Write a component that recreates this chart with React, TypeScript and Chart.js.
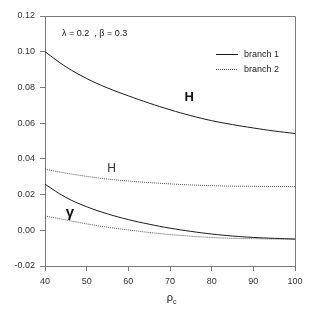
import React, { useEffect, useRef } from "react";
import { Chart, registerables } from "chart.js";

Chart.register(...registerables);

const rho = [40, 45, 50, 55, 60, 65, 70, 75, 80, 85, 90, 95, 100];
const H1 = [0.1, 0.0916, 0.085, 0.0797, 0.0753, 0.0712, 0.0675, 0.0642, 0.0614, 0.0592, 0.0573, 0.0556, 0.0542];
const H2 = [0.0342, 0.032, 0.0302, 0.0287, 0.0276, 0.0267, 0.026, 0.0254, 0.025, 0.0247, 0.0246, 0.0245, 0.0245];
const G1 = [0.0258, 0.0184, 0.0132, 0.0092, 0.006, 0.0034, 0.0012, -0.0006, -0.0021, -0.0032, -0.004, -0.0045, -0.0049];
const G2 = [0.008, 0.0058, 0.0036, 0.0017, 0.0002, -0.0012, -0.0024, -0.0033, -0.004, -0.0045, -0.0047, -0.0049, -0.005];

const legendLabels = ["branch 1", "branch 2"];
const paramText = "λ = 0.2  , β = 0.3";
const xTitle = "ρ";
const xTitleSub = "c";

const FONT = "'Liberation Sans', Arial, sans-serif";
const AXIS = "#7a7a7a";
const SOLID = "#1a1a1a";
const DOT = "#555555";

const pts = (ys: number[]) => rho.map((x, i) => ({ x, y: ys[i] }));

const annotations = [
  { text: "H", x: 74.6, y: 0.0745, font: `bold 13px ${FONT}`, color: "#111" },
  { text: "H", x: 56.0, y: 0.0345, font: `12px ${FONT}`, color: "#333" },
  { text: "γ", x: 46.0, y: 0.0095, font: `bold 15px ${FONT}`, color: "#111" },
];

const extras = {
  id: "extras",
  afterDraw(chart: any) {
    const { ctx, chartArea, scales } = chart;
    const { left, right, top, bottom } = chartArea;
    ctx.save();
    ctx.strokeStyle = AXIS;
    ctx.lineWidth = 1;
    ctx.beginPath();
    ctx.moveTo(left, top + 0.5);
    ctx.lineTo(right + 0.5, top + 0.5);
    ctx.lineTo(right + 0.5, bottom);
    ctx.stroke();

    ctx.fillStyle = "#222";
    ctx.font = `9px ${FONT}`;
    ctx.textBaseline = "middle";
    ctx.textAlign = "left";
    ctx.fillText(paramText, 62, 34);

    const ly = [54.5, 69.5];
    legendLabels.forEach((lab, i) => {
      ctx.beginPath();
      ctx.strokeStyle = i === 0 ? SOLID : DOT;
      ctx.setLineDash(i === 0 ? [] : [1, 1]);
      ctx.moveTo(216, ly[i]);
      ctx.lineTo(238, ly[i]);
      ctx.stroke();
      ctx.setLineDash([]);
      ctx.fillStyle = "#222";
      ctx.font = `9px ${FONT}`;
      ctx.textAlign = "left";
      ctx.textBaseline = "middle";
      ctx.fillText(lab, 244, ly[i]);
    });

    annotations.forEach((a) => {
      ctx.font = a.font;
      ctx.fillStyle = a.color;
      ctx.textAlign = "center";
      ctx.textBaseline = "middle";
      ctx.fillText(a.text, scales.x.getPixelForValue(a.x), scales.y.getPixelForValue(a.y));
    });

    const cx = (left + right) / 2;
    ctx.fillStyle = "#222";
    ctx.font = `11px ${FONT}`;
    ctx.textAlign = "center";
    ctx.textBaseline = "middle";
    ctx.fillText(xTitle, cx, 298);
    ctx.font = `7px ${FONT}`;
    ctx.textAlign = "left";
    ctx.fillText(xTitleSub, cx + 3, 302);
    ctx.restore();
  },
};

export default function App() {
  const ref = useRef<HTMLCanvasElement | null>(null);
  useEffect(() => {
    if (!ref.current) return;
    const line = (data: number[], solid: boolean) => ({
      data: pts(data),
      borderColor: solid ? SOLID : DOT,
      borderWidth: 1,
      borderDash: solid ? [] : [1, 1],
      pointRadius: 0,
      fill: false,
      tension: 0.4,
    });
    const chart = new Chart(ref.current, {
      type: "line",
      data: {
        datasets: [line(H1, true), line(G1, true), line(H2, false), line(G2, false)],
      },
      options: {
        animation: false,
        responsive: false,
        layout: { padding: { top: 16, right: 23, left: 0, bottom: 0 } },
        plugins: { legend: { display: false }, tooltip: { enabled: false } },
        scales: {
          x: {
            type: "linear",
            min: 40,
            max: 100,
            ticks: { stepSize: 10, color: "#333", font: { size: 9, family: FONT }, padding: 5, maxRotation: 0 },
            grid: { drawOnChartArea: false, color: AXIS, tickLength: 5 },
            border: { color: AXIS },
            afterFit: (s: any) => { s.height = 50; },
          },
          y: {
            min: -0.02,
            max: 0.12,
            ticks: {
              stepSize: 0.02,
              color: "#333",
              font: { size: 9, family: FONT },
              padding: 5,
              callback: (v: any) => (Math.abs(Number(v)) < 1e-9 ? 0 : Number(v)).toFixed(2),
            },
            grid: { drawOnChartArea: false, color: AXIS, tickLength: 5 },
            border: { color: AXIS },
            afterFit: (s: any) => { s.width = 45; },
          },
        },
      },
      plugins: [extras],
    });
    return () => chart.destroy();
  }, []);
  return (
    <div style={{ position: "fixed", left: 0, top: 0, width: 318, height: 316, background: "#fff" }}>
      <canvas ref={ref} width={318} height={316} style={{ width: 318, height: 316 }} />
    </div>
  );
}
